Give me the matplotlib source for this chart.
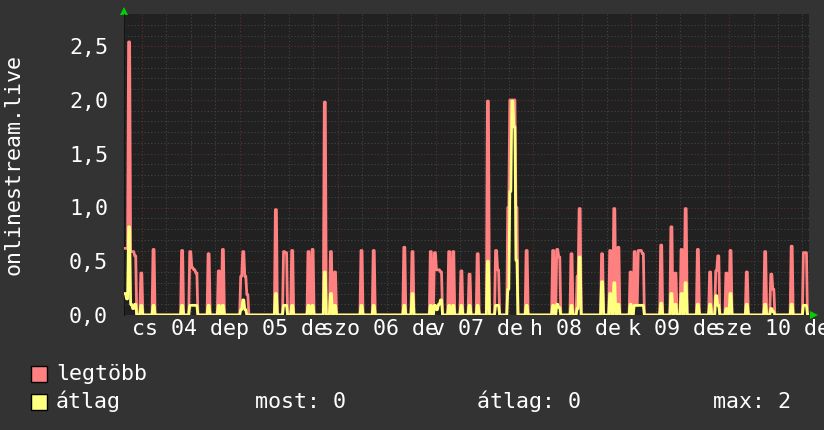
import numpy as np
import matplotlib
matplotlib.use('Agg')
import matplotlib.pyplot as plt
from matplotlib.patches import Rectangle
from matplotlib.transforms import offset_copy

plt.rcParams['font.family'] = ['DejaVu Sans Mono']

# half-hour slots (0..335 over the week) that are not zero
slots = [0, 1, 2, 3, 4, 5, 8, 14, 28, 32, 33, 34, 35, 41, 46, 48, 57, 58, 59, 60,
         74, 78, 79, 82, 90, 92, 98, 101, 103, 116, 122, 137, 141, 150, 152, 153,
         154, 155, 159, 161, 165, 169, 173, 178, 182, 183, 188, 189, 190, 191, 192,
         197, 210, 212, 213, 219, 222, 223, 234, 238, 240, 242, 248, 250, 251, 252,
         253, 254, 263, 268, 270, 273, 275, 281, 287, 290, 291, 295, 297, 305, 314,
         317, 318, 327, 333, 334]
legtobb = [0.62, 0.62, 2.54, 0.59, 0.59, 0.55, 0.39, 0.61, 0.6, 0.59, 0.44, 0.42, 0.39, 0.57, 0.41, 0.61, 0.36, 0.59, 0.36, 0.19,
           0.98, 0.59, 0.58, 0.6, 0.59, 0.61, 1.98, 0.59, 0.4, 0.6, 0.6, 0.63, 0.59, 0.59, 0.58, 0.42,
           0.42, 0.4, 0.59, 0.59, 0.41, 0.38, 0.57, 1.99, 0.6, 0.42, 1.0, 2.0, 2.0, 2.0, 1.0,
           0.6, 0.6, 0.61, 0.54, 0.57, 0.36, 0.99, 0.57, 0.6, 0.99, 0.63, 0.4, 0.59, 0.09, 0.6,
           0.6, 0.57, 0.65, 0.82, 0.39, 0.61, 0.99, 0.61, 0.4, 0.41, 0.55, 0.39, 0.6, 0.4, 0.59,
           0.38, 0.24, 0.64, 0.58, 0.58]
atlag = [0.2, 0.15, 0.82, 0.1, 0.06, 0.1, 0.09, 0.09, 0.09, 0.09, 0.09, 0.09, 0.09, 0.09, 0.09, 0.09, 0.05, 0.14, 0.05, 0.0,
         0.2, 0.09, 0.09, 0.09, 0.09, 0.09, 0.4, 0.2, 0.09, 0.09, 0.09, 0.09, 0.2, 0.09, 0.09, 0.05,
         0.1, 0.14, 0.09, 0.09, 0.09, 0.09, 0.09, 0.5, 0.09, 0.09, 0.24, 1.15, 1.99, 1.75, 0.51,
         0.09, 0.09, 0.1, 0.07, 0.09, 0.06, 0.54, 0.31, 0.2, 0.3, 0.1, 0.1, 0.09, 0.09, 0.09,
         0.09, 0.09, 0.11, 0.2, 0.1, 0.2, 0.3, 0.1, 0.1, 0.18, 0.09, 0.06, 0.2, 0.1, 0.1,
         0.06, 0.03, 0.1, 0.09, 0.09]

day_labels = ['cs 04 de', 'p 05 de', 'szo 06 de', 'v 07 de', 'h 08 de', 'k 09 de', 'sze 10 de']
label_hours = [14.7, 38.7, 62.7, 86.7, 110.7, 134.7, 158.7]
y_ticks = [0.0, 0.5, 1.0, 1.5, 2.0, 2.5]
y_tick_labels = ['0,0', '0,5', '1,0', '1,5', '2,0', '2,5']

RED = '#ff8080'
YEL = '#ffff80'
FS = 15.6
W, H = 824, 430

fig = plt.figure(figsize=(W / 100, H / 100), dpi=100, facecolor='#333333')
ax = fig.add_axes([124 / W, 1 - 315 / H, 685 / W, 301 / H])
ax.set_facecolor('#212121')

# grid, rrdtool style
for v in np.arange(0.1, 2.8, 0.1):
    major = abs(v / 0.5 - round(v / 0.5)) < 1e-6
    ax.axhline(v, color='#5e2f2f' if major else '#444444', lw=0.8, ls=(0, (1, 2)), zorder=1)
for h in np.arange(4.4, 168, 6):
    major = abs((h - 4.4) % 24) < 1e-6
    ax.axvline(h, color='#5e2f2f' if major else '#444444', lw=0.8, ls=(0, (1, 2)), zorder=1)

n = 336
mx = np.zeros(n)
av = np.zeros(n)
mx[slots] = legtobb
av[slots] = atlag
t = np.arange(2 * n) * 0.25 + 0.125
ax.plot(t, np.repeat(mx, 2), color=RED, lw=2.0, zorder=3)
ax.plot(t, np.repeat(av, 2), color=YEL, lw=2.0, zorder=4)

ax.set_xlim(0, 168)
ax.set_ylim(0, 2.8)
ax.set_xticks(label_hours, day_labels)
ax.set_yticks(y_ticks, y_tick_labels)
ax.tick_params(axis='both', colors='white', length=0, labelsize=FS)
ax.tick_params(axis='y', pad=11.5)
ax.tick_params(axis='x', pad=3)
for s in ax.spines.values():
    s.set_visible(False)
ax.spines['left'].set_visible(True)
ax.spines['left'].set_color('#151515')

# green arrows at the axis ends
ax.plot([0], [1], marker='^', ms=6, color='#00d000', mew=0, clip_on=False,
        transform=offset_copy(ax.transAxes, fig=fig, x=0, y=3.5, units='dots'))
ax.plot([1], [0], marker='>', ms=6, color='#00d000', mew=0, clip_on=False,
        transform=offset_copy(ax.transAxes, fig=fig, x=4.5, y=0, units='dots'))

fig.text(13.5 / W, 1 - 164.5 / H, 'onlinestream.live', rotation=90, ha='center', va='center',
         color='white', fontsize=FS)

# legend
fig.add_artist(Rectangle((31.5 / W, 1 - 381.5 / H), 15.5 / W, 16 / H, transform=fig.transFigure,
                         fc=RED, ec='black', lw=1))
fig.add_artist(Rectangle((31.5 / W, 1 - 409.5 / H), 15.5 / W, 16 / H, transform=fig.transFigure,
                         fc=YEL, ec='black', lw=1))
fig.text(56 / W, 1 - 373.5 / H, 'legtöbb', va='center', color='white', fontsize=FS)
fig.text(56 / W, 1 - 401.5 / H, 'átlag', va='center', color='white', fontsize=FS)
fig.text(255 / W, 1 - 401.5 / H, 'most: 0', va='center', color='white', fontsize=FS)
fig.text(477 / W, 1 - 401.5 / H, 'átlag: 0', va='center', color='white', fontsize=FS)
fig.text(713 / W, 1 - 401.5 / H, 'max: 2', va='center', color='white', fontsize=FS)

fig.savefig('out.png', dpi=100, facecolor=fig.get_facecolor())
